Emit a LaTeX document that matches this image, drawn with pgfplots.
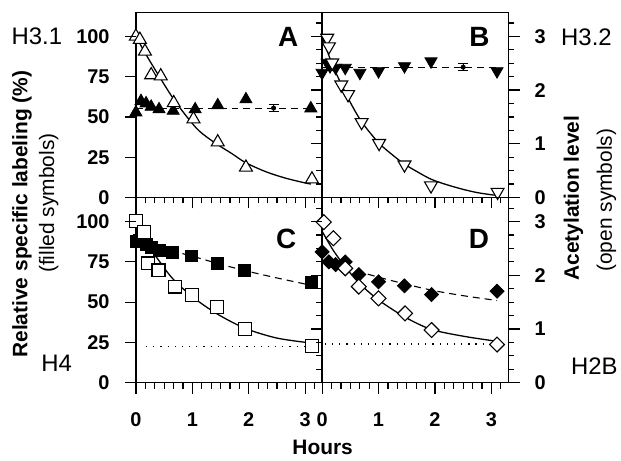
\documentclass[border=0pt]{standalone}
\usepackage{pgfplots}
\pgfplotsset{compat=1.18}
\usepackage{fontspec}
\setmainfont{Liberation Sans}

\pgfplotsset{
  base/.style={scale only axis, width=187pt, height=186pt, xmin=0, xmax=3.3,
    axis line style={line width=1.4pt},
    every tick/.append style={black, line width=1.2pt},
    tick label style={font=\fontsize{20}{20}\selectfont\bfseries},
    /pgf/number format/assume math mode=true,
    major tick length=11pt, minor tick length=6pt,
    clip=false},
  leftscale/.style={base, ymin=0, ymax=115,
    xtick={0,1,2,3}, minor xtick={0.16667,0.33333,0.5,0.66667,0.83333,1.16667,1.33333,1.5,1.66667,1.83333,2.16667,2.33333,2.5,2.66667,2.83333,3.16667},
    xtick pos=left, tick align=outside,
    xticklabel style={yshift=-16pt}, yticklabel style={xshift=-12pt}},
  rightscale/.style={base, ymin=0, ymax=3.45, axis x line=none, axis y line*=right,
    ytick={0,1,2,3}, minor ytick={0.25,0.5,0.75,1.25,1.5,1.75,2.25,2.5,2.75,3.25},
    ytick pos=right, yticklabel style={xshift=12pt}},
  fillmk/.style={only marks, mark options={fill=black, draw=black, line width=0.8pt}},
  openmk/.style={only marks, mark options={fill=white, draw=black, line width=1.1pt}},
  fitline/.style={smooth, no marks, black, line width=1.3pt},
  dashline/.style={no marks, black, line width=1.1pt, dash pattern=on 7pt off 5pt},
  dotline/.style={no marks, black, line width=1.2pt, dash pattern=on 1.2pt off 6pt},
}

\begin{document}
\begin{tikzpicture}
\path (0pt,0pt) rectangle (621pt,462pt);

% ---------------- Panel A (H3.1) ----------------
\begin{axis}[leftscale, at={(136.5pt,263.7pt)}, anchor=south west,
  ytick={0,25,50,75,100}, ytick pos=left, xticklabels={}]
\addplot[dashline] coordinates {(0,55.5) (3.1,55.5)};
\addplot[fillmk, mark=triangle*, mark size=7pt] coordinates {
(0,52.8) (0.09,59.8) (0.18,58.4) (0.27,56.3) (0.41,54.7) (0.66,53.8) (1.05,54.7) (1.45,57.2) (1.95,60.9) (3.1,55.3)};
\addplot[black, line width=1pt, only marks, mark=none, error bars/.cd, y dir=both, y explicit,
  error mark options={rotate=90, mark size=5pt, line width=1pt}] coordinates {(2.44,55.5) +- (0,2.2)};
\end{axis}
\begin{axis}[rightscale, at={(136.5pt,263.7pt)}, anchor=south west,
  tick align=inside, yticklabels={}]
\addplot[fitline] coordinates {
(0,3.0) (0.18,2.66) (0.41,2.26) (0.65,1.86) (0.89,1.52) (1.12,1.24) (1.41,1.01) (1.71,0.81) (1.94,0.65) (2.3,0.48) (2.65,0.36) (3.0,0.27) (3.1,0.25)};
\addplot[openmk, mark=triangle*, mark size=7.5pt] coordinates {
(0,3.0) (0.07,2.94) (0.16,2.72) (0.27,2.28) (0.44,2.26) (0.67,1.76) (1.02,1.46) (1.45,1.03) (1.95,0.56) (3.12,0.34)};
\end{axis}

% ---------------- Panel B (H3.2) ----------------
\begin{axis}[leftscale, at={(323.5pt,263.7pt)}, anchor=south west,
  ytick=\empty, xticklabels={}]
\addplot[dashline] coordinates {(0,80.9) (3.1,80.9)};
\addplot[only marks, mark=triangle*, mark size=7pt, mark options={rotate=180, fill=black, draw=black, line width=0.8pt}] coordinates {
(0,77.4) (0.09,83.6) (0.14,81.5) (0.24,80.5) (0.41,80.5) (0.67,77.4) (1.0,78.4) (1.46,81.5) (1.93,84.5) (3.1,78.4)};
\addplot[black, line width=1pt, only marks, mark=none, error bars/.cd, y dir=both, y explicit,
  error mark options={rotate=90, mark size=5pt, line width=1pt}] coordinates {(2.5,80.9) +- (0,2.2)};
\end{axis}
\begin{axis}[rightscale, at={(323.5pt,263.7pt)}, anchor=south west, tick align=outside]
\addplot[fitline] coordinates {
(0,3.0) (0.1,2.7) (0.22,2.38) (0.47,1.83) (0.7,1.41) (1.0,1.02) (1.25,0.79) (1.46,0.62) (1.7,0.47) (1.93,0.34) (2.2,0.24) (2.5,0.15) (2.75,0.09) (3.0,0.05) (3.1,0.04)};
\addplot[only marks, mark=triangle*, mark size=7.5pt, mark options={rotate=180, fill=white, draw=black, line width=1.1pt}] coordinates {
(0.09,2.97) (0.12,2.81) (0.18,2.51) (0.34,2.1) (0.46,1.92) (0.70,1.4) (1.01,1.01) (1.46,0.61) (1.93,0.22) (3.11,0.1)};
\end{axis}

% ---------------- Panel C (H4) ----------------
\begin{axis}[leftscale, at={(136.5pt,77.7pt)}, anchor=south west,
  ytick={0,25,50,75,100}, ytick pos=left]
\addplot[dashline, smooth] coordinates {(0,87) (0.5,83) (1,78.5) (1.5,73.5) (2,69) (2.5,65) (3.1,60.5)};
\addplot[fillmk, mark=square*, mark size=6pt] coordinates {
(0,87.8) (0.07,88.4) (0.18,85.7) (0.27,83.7) (0.41,82.2) (0.65,80.6) (0.99,78.7) (1.44,74) (1.93,69.8) (3.11,62.2)};
\end{axis}
\begin{axis}[rightscale, at={(136.5pt,77.7pt)}, anchor=south west,
  tick align=inside, yticklabels={}]
\addplot[dotline] coordinates {(0.18,0.68) (3.15,0.68)};
\addplot[fitline] coordinates {
(0,2.91) (0.2,2.58) (0.41,2.27) (0.65,1.94) (1.0,1.6) (1.44,1.28) (1.94,1.01) (2.5,0.83) (3.09,0.74)};
\addplot[openmk, mark=square*, mark size=6.5pt] coordinates {
(0,3.01) (0.15,2.81) (0.21,2.22) (0.40,2.09) (0.70,1.79) (1.0,1.63) (1.44,1.41) (1.94,1.0) (3.12,0.69)};
\end{axis}

% ---------------- Panel D (H2B) ----------------
\begin{axis}[leftscale, at={(323.5pt,77.7pt)}, anchor=south west, ytick=\empty]
\addplot[dashline, smooth] coordinates {(0,76) (0.5,70.5) (1,65.5) (1.5,61) (2,57) (2.5,54) (3.1,51)};
\addplot[only marks, mark=square*, mark size=5pt, mark options={rotate=45, fill=black, draw=black, line width=0.8pt}] coordinates {
(0,81.2) (0.12,75) (0.24,73.3) (0.41,75) (0.65,67.1) (1.0,62.6) (1.46,60.1) (1.94,54.7) (3.1,56.8)};
\end{axis}
\begin{axis}[rightscale, at={(323.5pt,77.7pt)}, anchor=south west, tick align=outside]
\addplot[dotline] coordinates {(0.05,0.72) (3.05,0.72)};
\addplot[fitline] coordinates {
(0,2.82) (0.2,2.46) (0.41,2.16) (0.65,1.86) (1.0,1.54) (1.47,1.22) (1.94,0.99) (2.53,0.86) (3.1,0.77)};
\addplot[only marks, mark=square*, mark size=5.3pt, mark options={rotate=45, fill=white, draw=black, line width=1.1pt}] coordinates {
(0.03,2.99) (0.2,2.69) (0.41,2.13) (0.65,1.79) (1.0,1.57) (1.47,1.29) (1.94,0.98) (3.1,0.71)};
\end{axis}

% ---------------- Tick marks (frame decoration) ----------------
\foreach \bx in {136.5,323.5}{
  \foreach \by in {77.7,263.7}{
    \foreach \t in {0,1,2,3}{
      \draw[black, line width=1.2pt] ({\bx pt+\t*56.667pt},{\by pt}) -- ++(0pt,-11pt);}
    \foreach \t in {0.16667,0.33333,0.5,0.66667,0.83333,1.16667,1.33333,1.5,1.66667,1.83333,2.16667,2.33333,2.5,2.66667,2.83333,3.16667}{
      \draw[black, line width=1.1pt] ({\bx pt+\t*56.667pt},{\by pt}) -- ++(0pt,-6pt);}
  }
}
\foreach \by in {77.7,263.7}{
  \foreach \v in {0,25,50,75,100}{
    \draw[black, line width=1.2pt] (136.5pt,{\by pt+\v*1.61739pt}) -- ++(-11pt,0pt);}
  \foreach \a in {0,1,2,3}{
    \draw[black, line width=1.2pt] (510.5pt,{\by pt+\a*53.913pt}) -- ++(12pt,0pt);
    \draw[black, line width=1.2pt] (323.5pt,{\by pt+\a*53.913pt}) -- ++(-10pt,0pt);}
  \foreach \a in {0.25,0.5,0.75,1.25,1.5,1.75,2.25,2.5,2.75,3.25}{
    \draw[black, line width=1.1pt] (510.5pt,{\by pt+\a*53.913pt}) -- ++(6pt,0pt);
    \draw[black, line width=1.1pt] (323.5pt,{\by pt+\a*53.913pt}) -- ++(-6pt,0pt);}
}

% ---------------- Texts ----------------
\node[font=\fontsize{24}{24}\selectfont] at (37pt,426pt) {H3.1};
\node[font=\fontsize{24}{24}\selectfont] at (589pt,425pt) {H3.2};
\node[font=\fontsize{24}{24}\selectfont] at (57pt,97pt) {H4};
\node[font=\fontsize{24}{24}\selectfont] at (597pt,94pt) {H2B};
\node[font=\fontsize{28}{28}\selectfont\bfseries] at (289.5pt,424.5pt) {A};
\node[font=\fontsize{28}{28}\selectfont\bfseries] at (481.5pt,424.5pt) {B};
\node[font=\fontsize{28}{28}\selectfont\bfseries] at (287.5pt,222pt) {C};
\node[font=\fontsize{28}{28}\selectfont\bfseries] at (481pt,222pt) {D};
\node[rotate=90, font=\fontsize{21}{21}\selectfont\bfseries] at (22pt,247pt) {Relative specific labeling (\%)};
\node[rotate=90, font=\fontsize{21}{21}\selectfont] at (49pt,258pt) {(filled symbols)};
\node[rotate=90, font=\fontsize{21}{21}\selectfont\bfseries] at (576pt,263pt) {Acetylation level};
\node[rotate=90, font=\fontsize{21}{21}\selectfont] at (609pt,261pt) {(open symbols)};
\node[font=\fontsize{21}{21}\selectfont\bfseries] at (324pt,13pt) {Hours};
\end{tikzpicture}
\end{document}
